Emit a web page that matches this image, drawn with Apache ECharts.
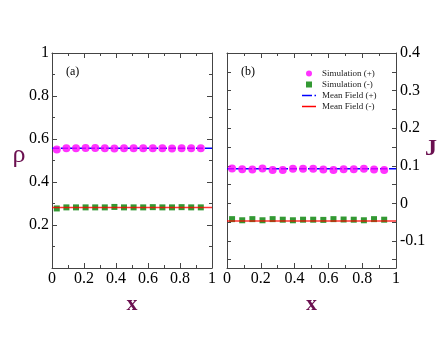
<!DOCTYPE html>
<html>
<head>
<meta charset="utf-8">
<script src="https://cdn.jsdelivr.net/npm/echarts@6/dist/echarts.min.js"></script>
<style>
  html, body { margin: 0; padding: 0; background: #fff; }
  #chart { width: 448px; height: 346px; }
</style>
</head>
<body>
<div id="chart"></div>
<script>
// sample positions along x
const xs = [0.03, 0.09, 0.15, 0.21, 0.27, 0.33, 0.39, 0.45, 0.51, 0.57, 0.63, 0.69, 0.75, 0.81, 0.87, 0.93]

// panel (a): density rho
const rhoSimPlus = [0.551, 0.557, 0.557, 0.558, 0.558, 0.557, 0.556, 0.557, 0.557, 0.557, 0.557, 0.557, 0.556, 0.557, 0.557, 0.557]
const rhoSimMinus = [0.277, 0.282, 0.282, 0.282, 0.282, 0.282, 0.284, 0.282, 0.282, 0.282, 0.283, 0.282, 0.282, 0.283, 0.282, 0.282]
const rhoMfPlus = 0.557
const rhoMfMinus = 0.281

// panel (b): current J
const jSimPlus = [0.093, 0.091, 0.090, 0.093, 0.089, 0.089, 0.092, 0.092, 0.092, 0.090, 0.089, 0.091, 0.091, 0.092, 0.090, 0.089]
const jSimMinus = [-0.042, -0.045, -0.042, -0.045, -0.042, -0.0435, -0.045, -0.0435, -0.0435, -0.044, -0.042, -0.043, -0.0435, -0.045, -0.042, -0.0435]
const jMfPlus = 0.092
const jMfMinus = -0.047

const lineX = [0, 1]
const jTicks = [-0.15, -0.1, -0.05, 0, 0.05, 0.1, 0.15, 0.2, 0.25, 0.3, 0.35, 0.4]
const jLabels = [-0.1, 0, 0.1, 0.2, 0.3, 0.4]

const SERIF = 'Liberation Serif'
const NAME_COLOR = '#6b1050'
const AXIS_COLOR = '#444'

const pairs = (xv, yv) => xv.map((x, i) => [x, yv[i]])
const flat = (v) => lineX.map((x) => [x, v])

function xAxisPair(gridIndex) {
  const base = {
    gridIndex,
    type: 'value',
    min: 0,
    max: 1,
    interval: 0.2,
    axisLine: { onZero: false, lineStyle: { color: AXIS_COLOR, width: 1 } },
    axisTick: { inside: true, length: 5, lineStyle: { color: AXIS_COLOR } },
    minorTick: { show: true, splitNumber: 2, length: 3, lineStyle: { color: AXIS_COLOR } },
    splitLine: { show: false },
  }
  return [
    {
      ...base,
      position: 'bottom',
      name: 'x',
      nameLocation: 'middle',
      nameGap: 25,
      nameTextStyle: { fontFamily: SERIF, fontSize: 22, color: NAME_COLOR, fontWeight: 'bold' },
      axisLabel: { fontFamily: SERIF, fontSize: 16, color: '#000', margin: 3 },
    },
    { ...base, position: 'top', axisLabel: { show: false } },
  ]
}

const leftY = {
  gridIndex: 0,
  type: 'value',
  min: 0,
  max: 1,
  interval: 0.2,
  axisLine: { onZero: false, lineStyle: { color: AXIS_COLOR, width: 1 } },
  axisTick: { inside: true, length: 5, lineStyle: { color: AXIS_COLOR } },
  minorTick: { show: true, splitNumber: 2, length: 3, lineStyle: { color: AXIS_COLOR } },
  splitLine: { show: false },
}

const rightY = {
  gridIndex: 1,
  type: 'value',
  min: -0.172,
  max: 0.4,
  axisLine: { onZero: false, lineStyle: { color: AXIS_COLOR, width: 1 } },
  axisTick: { inside: true, length: 4, customValues: jTicks, lineStyle: { color: AXIS_COLOR } },
  splitLine: { show: false },
}

const chart = echarts.init(document.getElementById('chart'))

chart.setOption({
  backgroundColor: '#fff',
  animation: false,
  grid: [
    { left: 52, right: 236, top: 53, bottom: 78 },
    { left: 227, right: 52, top: 53, bottom: 78 },
  ],
  xAxis: [...xAxisPair(0), ...xAxisPair(1)],
  yAxis: [
    {
      ...leftY,
      position: 'left',
      axisLabel: {
        fontFamily: SERIF, fontSize: 16, color: '#000', margin: 3,
        formatter: (v) => (v === 0 ? '' : String(v)),
      },
    },
    { ...leftY, position: 'right', axisLabel: { show: false } },
    { ...rightY, position: 'left', axisLabel: { show: false } },
    {
      ...rightY,
      position: 'right',
      axisLabel: {
        customValues: jLabels,
        fontFamily: SERIF, fontSize: 16, color: '#000', margin: 4,
        formatter: (v) => String(v),
      },
    },
  ],
  legend: {
    left: 297,
    top: 64,
    orient: 'vertical',
    itemWidth: 14,
    itemHeight: 6,
    itemGap: 2,
    textStyle: { fontFamily: SERIF, fontSize: 9, color: '#222', padding: [0, 0, 0, 1] },
    data: [
      { name: 'Simulation (+)', icon: 'circle' },
      { name: 'Simulation (-)', icon: 'path://M0,0h1v1h-1z' },
      { name: 'Mean Field (+)', icon: 'path://M0,0h10v1.5h-10zM12.5,0h1.5v1.5h-1.5z' },
      { name: 'Mean Field (-)', icon: 'path://M0,0h14v1.5h-14z' },
    ],
  },
  graphic: [
    { type: 'text', left: 66, top: 66, style: { text: '(a)', font: '12px "Liberation Serif"', fill: '#000' } },
    { type: 'text', left: 241, top: 66, style: { text: '(b)', font: '12px "Liberation Serif"', fill: '#000' } },
    {
      type: 'text', x: 19, y: 155,
      style: { text: 'ρ', font: '26px "Liberation Serif"', fill: NAME_COLOR, align: 'center', verticalAlign: 'middle' },
    },
    {
      type: 'text', x: 431, y: 149,
      style: { text: 'J', font: 'bold 24px "Liberation Serif"', fill: NAME_COLOR, align: 'center', verticalAlign: 'middle' },
    },
  ],
  series: [
    // panel (a)
    {
      name: 'Mean Field (+)', type: 'line', xAxisIndex: 0, yAxisIndex: 0,
      data: flat(rhoMfPlus), symbol: 'none', z: 2,
      itemStyle: { color: '#0000ff' },
      lineStyle: { color: '#0000ff', width: 1.5, type: [7, 2] },
    },
    {
      name: 'Simulation (+)', type: 'scatter', xAxisIndex: 0, yAxisIndex: 0,
      data: pairs(xs, rhoSimPlus), symbol: 'circle', symbolSize: 8, z: 3,
      itemStyle: { color: '#ff00ff' },
    },
    {
      name: 'Simulation (-)', type: 'scatter', xAxisIndex: 0, yAxisIndex: 0,
      data: pairs(xs, rhoSimMinus), symbol: 'rect', symbolSize: 6, z: 3,
      itemStyle: { color: '#008000' },
    },
    {
      name: 'Mean Field (-)', type: 'line', xAxisIndex: 0, yAxisIndex: 0,
      data: flat(rhoMfMinus), symbol: 'none', z: 4,
      itemStyle: { color: '#ff0000' },
      lineStyle: { color: '#ff0000', width: 1.5, opacity: 0.8 },
    },
    // panel (b)
    {
      name: 'Mean Field (+)', type: 'line', xAxisIndex: 2, yAxisIndex: 2,
      data: flat(jMfPlus), symbol: 'none', z: 2,
      itemStyle: { color: '#0000ff' },
      lineStyle: { color: '#0000ff', width: 1.5, type: [7, 2] },
    },
    {
      name: 'Simulation (+)', type: 'scatter', xAxisIndex: 2, yAxisIndex: 2,
      data: pairs(xs, jSimPlus), symbol: 'circle', symbolSize: 8, z: 3,
      itemStyle: { color: '#ff00ff' },
    },
    {
      name: 'Simulation (-)', type: 'scatter', xAxisIndex: 2, yAxisIndex: 2,
      data: pairs(xs, jSimMinus), symbol: 'rect', symbolSize: 6, z: 3,
      itemStyle: { color: '#008000' },
    },
    {
      name: 'Mean Field (-)', type: 'line', xAxisIndex: 2, yAxisIndex: 2,
      data: flat(jMfMinus), symbol: 'none', z: 4,
      itemStyle: { color: '#ff0000' },
      lineStyle: { color: '#ff0000', width: 1.5, opacity: 0.8 },
    },
  ],
})
</script>
</body>
</html>
